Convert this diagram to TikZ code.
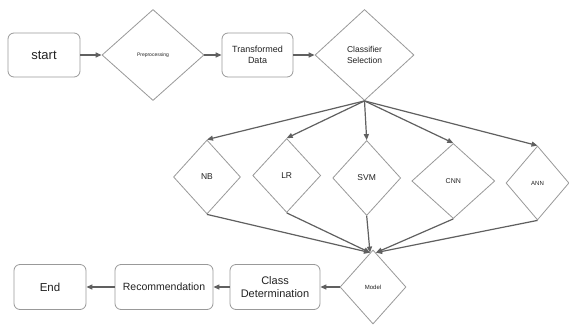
\documentclass[tikz,border=0pt]{standalone}
\usepackage{fontspec}
\setmainfont{Liberation Sans}
\usetikzlibrary{shapes.geometric,arrows.meta}
\definecolor{edgec}{HTML}{999999}
\definecolor{linec}{HTML}{606060}
\definecolor{txt}{HTML}{222222}
\begin{document}
\begin{tikzpicture}[x=1pt,y=-1pt,
  rbox/.style={draw=edgec,line width=0.8pt,rounded corners=6pt,align=center,text=txt,inner sep=0pt},
  dia/.style={draw=edgec,line width=0.8pt,diamond,align=center,text=txt,inner sep=0pt},
  conn/.style={draw=linec,line width=1.2pt,-{Triangle[length=6pt,width=5pt]}}]
\useasboundingbox[fill=white] (0,0) rectangle (569,324);
% top row
\node[rbox,minimum width=72pt,minimum height=44pt,font=\fontsize{13}{15}\selectfont] (start) at (44,55) {start};
\node[dia,minimum width=102pt,minimum height=91pt,font=\fontsize{5}{6}\selectfont] (pre) at (153,55) {Preprocessing};
\node[rbox,minimum width=71pt,minimum height=44pt,font=\fontsize{9}{11}\selectfont] (trans) at (257.5,55) {Transformed\\Data};
\node[dia,minimum width=99pt,minimum height=91pt,font=\fontsize{8.5}{11}\selectfont] (cls) at (364.5,55) {Classifier\\Selection};
% middle diamonds
\node[dia,minimum width=67pt,minimum height=74pt,font=\fontsize{8.5}{10}\selectfont] (nb) at (207,177) {NB};
\node[dia,minimum width=68pt,minimum height=74pt,font=\fontsize{8.5}{10}\selectfont] (lr) at (286.7,175.5) {LR};
\node[dia,minimum width=68pt,minimum height=75pt,font=\fontsize{8.5}{10}\selectfont] (svm) at (366.7,178) {SVM};
\node[dia,minimum width=83pt,minimum height=75pt,font=\fontsize{7}{8}\selectfont] (cnn) at (453.3,181) {CNN};
\node[dia,minimum width=63pt,minimum height=74pt,font=\fontsize{6}{7}\selectfont] (ann) at (537.5,183) {ANN};
% bottom row
\node[dia,minimum width=66pt,minimum height=74pt,font=\fontsize{6}{7}\selectfont] (model) at (373,287) {Model};
\node[rbox,minimum width=90pt,minimum height=45pt,font=\fontsize{11}{13.5}\selectfont] (cdet) at (275,287) {Class\\Determination};
\node[rbox,minimum width=98pt,minimum height=45pt,font=\fontsize{10.5}{12}\selectfont] (rec) at (164,287) {Recommendation};
\node[rbox,minimum width=72pt,minimum height=45pt,font=\fontsize{11.5}{13}\selectfont] (end) at (50,287) {End};
% connectors
\draw[conn] (start) -- (pre);
\draw[conn] (pre) -- (trans);
\draw[conn] (trans) -- (cls);
\draw[conn] (cls.south) -- (nb.north);
\draw[conn] (cls.south) -- (lr.north);
\draw[conn] (cls.south) -- (svm.north);
\draw[conn] (cls.south) -- (cnn.north);
\draw[conn] (cls.south) -- (ann.north);
\coordinate (mL) at ([xshift=-3pt,yshift=-3pt]model.north);
\coordinate (mR) at ([xshift=3pt,yshift=-3pt]model.north);
\draw[conn] (nb.south) -- (mL);
\draw[conn] (lr.south) -- (mL);
\draw[conn] (svm.south) -- (mL);
\draw[conn] (cnn.south) -- (mR);
\draw[conn] (ann.south) -- (mR);
\draw[conn] (model) -- (cdet);
\draw[conn] (cdet) -- (rec);
\draw[conn] (rec) -- (end);
\end{tikzpicture}
\end{document}
